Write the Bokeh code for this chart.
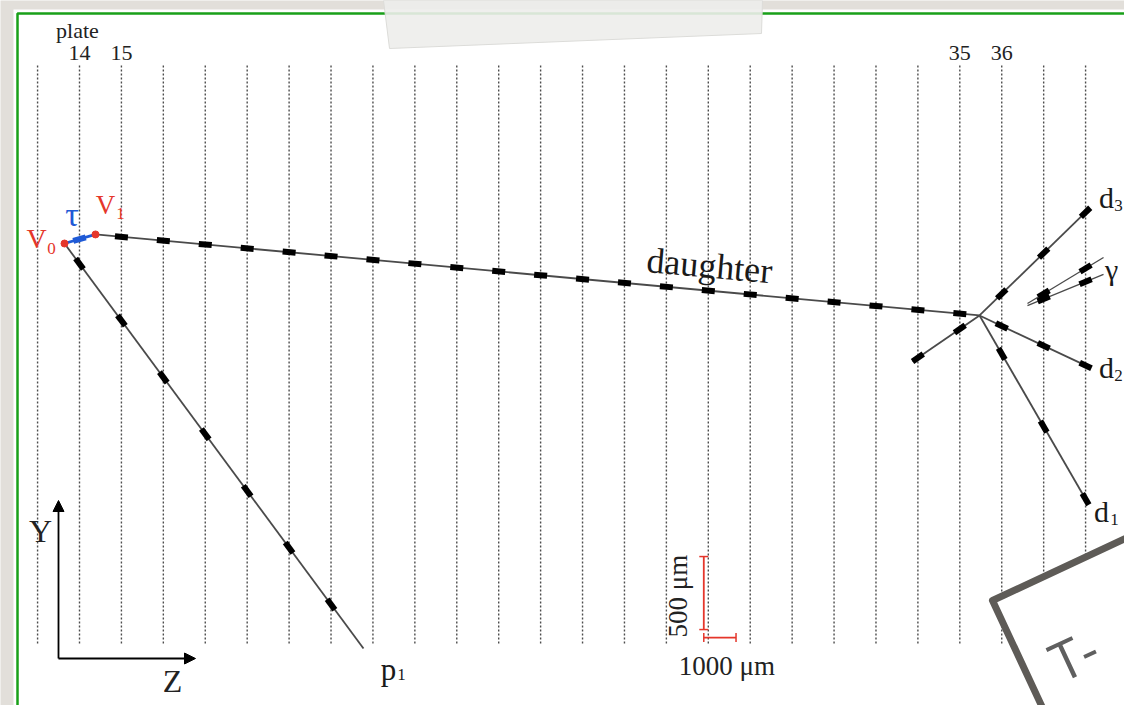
import math
from bokeh.plotting import figure
from bokeh.models import Range1d, Arrow, NormalHead, TeeHead
from bokeh.core.properties import value
from bokeh.embed import file_html
from bokeh.resources import INLINE

# ---------------- data (micrometres; z along beam from plate 14, y transverse) ----------------
plate_numbers = list(range(13, 39))
labelled_plates = [14, 15, 35, 36]
plate_pitch_um = 1300

vertex_names = ["V0", "V1"]
vertex_z = [-465, 496]
vertex_y = [0, 62]

track_names = ["tau", "daughter", "p1", "d1", "d2", "d3", "backward", "gamma_a", "gamma_b"]
track_z0 = [-465, 496, -465, 27911, 27911, 27911, 27911, 29398, 29398]
track_y0 = [0, 62, 0, -493, -493, -493, -493, -411, -425]
track_z1 = [496, 27911, 8807, 31260, 31260, 31322, 25833, 31756, 31756]
track_y1 = [62, -493, -2774, -1774, -842, 240, -808, -96, -212]
track_first_plate = [14, 15, 14, 36, 36, 36, 34, 37, 37]
track_last_plate = [14, 35, 20, 38, 38, 38, 35, 38, 38]

scale_bar_z = 19360
scale_bar_y = -2699
scale_bar_dz = 1000
scale_bar_dy = 500

# ---------------- layout ----------------
W, H = 1124, 705
SX = 41.92 / plate_pitch_um      # px per um along z
SY = 73.0 / 500.0                # px per um along y
X0, Y0 = 79.0, 243.0             # screen position of z=0, y=0

def zx(px):
    return (px - X0) / SX

def yy(py):
    return (Y0 - py) / SY

def shifted(z, y, dx, dy):
    return z + dx / SX, y - dy / SY

BG = "#e2dfda"
RED = "#e5362b"
BLUE = "#1f5ad6"
GREEN = "#19a019"
TRACK = "#4a4a4a"
INK = "#1a1a1a"
SERIF = value("Liberation Serif")

p = figure(width=W, height=H, x_range=Range1d(zx(0), zx(W)), y_range=Range1d(yy(H), yy(0)),
           output_backend="svg", toolbar_location=None, min_border=0,
           x_axis_type=None, y_axis_type=None,
           background_fill_color=BG, border_fill_color=BG, outline_line_color=None)
p.grid.visible = False

# slide panel + green frame
p.quad(left=[zx(13)], right=[zx(W + 20)], top=[yy(9)], bottom=[yy(H + 20)],
       fill_color="white", line_color=None)
p.multi_line(xs=[[zx(W + 20), zx(17), zx(17)]], ys=[[yy(13), yy(13), yy(H + 20)]],
             line_color=GREEN, line_width=2.5)

# plate lines
plate_z = [(n - 14) * plate_pitch_um for n in plate_numbers]
line_top, line_bottom = yy(65), yy(645)
p.segment(x0=plate_z, y0=[line_top] * len(plate_z), x1=plate_z, y1=[line_bottom] * len(plate_z),
          line_color="#4d4d4d", line_width=1.4, line_dash="2 2")

# plate labels
lab_z = [(n - 14) * plate_pitch_um for n in labelled_plates]
p.text(x=lab_z, y=[shifted(0, line_top, 0, -13)[1]] * len(lab_z), text=[str(n) for n in labelled_plates],
       text_font=SERIF, text_font_size="22px", text_color="#222222",
       text_align="center", text_baseline="middle")
pz, py_ = shifted(lab_z[0], line_top, -2, -35)
p.text(x=[pz], y=[py_], text=["plate"], text_font=SERIF, text_font_size="22px",
       text_color="#222222", text_align="center", text_baseline="middle")

# tracks and base-track segments
seg = {"x0": [], "y0": [], "x1": [], "y1": [], "c": []}
for i, name in enumerate(track_names):
    z0, y0, z1, y1 = track_z0[i], track_y0[i], track_z1[i], track_y1[i]
    col = BLUE if name == "tau" else TRACK
    lw = 2.8 if name == "tau" else (1.3 if name.startswith("gamma") else 1.8)
    p.line([z0, z1], [y0, y1], line_color=col, line_width=lw)
    dxp, dyp = (z1 - z0) * SX, (y1 - y0) * SY
    n = math.hypot(dxp, dyp)
    ux, uy = dxp / n, dyp / n
    L = 6.5
    for pl in range(track_first_plate[i], track_last_plate[i] + 1):
        zc = (pl - 14) * plate_pitch_um
        yc = y0 + (zc - z0) / (z1 - z0) * (y1 - y0)
        seg["x0"].append(zc - ux * L / SX)
        seg["y0"].append(yc - uy * L / SY)
        seg["x1"].append(zc + ux * L / SX)
        seg["y1"].append(yc + uy * L / SY)
        seg["c"].append(BLUE if name == "tau" else "black")
p.segment(x0="x0", y0="y0", x1="x1", y1="y1", line_color="c", line_width=6,
          line_cap="butt", source=seg)

# vertices
p.scatter(vertex_z, vertex_y, size=7, fill_color=RED, line_color=RED)

def label(z, y, dx, dy, txt, color, size, angle=0.0, font=SERIF):
    lz, ly = shifted(z, y, dx, dy)
    p.text(x=[lz], y=[ly], text=[txt], text_font=font, text_font_size=size, text_color=color,
           text_align="center", text_baseline="middle", angle=angle)

label(vertex_z[0], vertex_y[0], -28, -5, "V", RED, "28px")
label(vertex_z[0], vertex_y[0], -13, 5, "0", RED, "17px")
label(vertex_z[1], vertex_y[1], 10, -29, "V", RED, "27px")
label(vertex_z[1], vertex_y[1], 25, -21, "1", RED, "17px")
tz, ty = (track_z0[0] + track_z1[0]) / 2, (track_y0[0] + track_y1[0]) / 2
label(tz, ty, -8, -24, "τ", BLUE, "34px")

# daughter label along the track
di = track_names.index("daughter")
dz = zx(709)
dy_ = track_y0[di] + (dz - track_z0[di]) / (track_z1[di] - track_z0[di]) * (track_y1[di] - track_y0[di])
ang = math.atan2((track_y1[di] - track_y0[di]) * SY, (track_z1[di] - track_z0[di]) * SX)
label(dz, dy_, 0, -25, "daughter", INK, "36px", angle=ang)

def end_of(name):
    i = track_names.index(name)
    return track_z1[i], track_y1[i]

z, y = end_of("p1")
label(z, y, 25, 21, "p", INK, "31px")
label(z, y, 38, 26, "1", INK, "17px")
z, y = end_of("d1")
label(z, y, 14, 9, "d", INK, "30px")
label(z, y, 27, 17, "1", INK, "17px")
z, y = end_of("d2")
label(z, y, 19, 1, "d", INK, "30px")
label(z, y, 31, 9, "2", INK, "17px")
z, y = end_of("d3")
label(z, y, 17, -11, "d", INK, "30px")
label(z, y, 29, -3, "3", INK, "17px")
z, y = end_of("gamma_a")
label(z, y, 8, 12, "γ", INK, "30px")

# axis indicator
ox, oy = zx(58), yy(658)
p.add_layout(Arrow(x_start=ox, y_start=oy, x_end=ox, y_end=yy(500), line_width=1.8, line_color="black",
                   end=NormalHead(size=11, fill_color="black", line_color="black")))
p.add_layout(Arrow(x_start=ox, y_start=oy, x_end=zx(195), y_end=oy, line_width=1.8, line_color="black",
                   end=NormalHead(size=11, fill_color="black", line_color="black")))
p.text(x=[zx(40)], y=[yy(530)], text=["Y"], text_font=SERIF, text_font_size="32px",
       text_color="#222222", text_align="center", text_baseline="middle")
p.text(x=[zx(172)], y=[yy(680)], text=["Z"], text_font=SERIF, text_font_size="32px",
       text_color="#222222", text_align="center", text_baseline="middle")

# scale bars
gap = 8 / SY
p.add_layout(Arrow(x_start=scale_bar_z, y_start=scale_bar_y + gap,
                   x_end=scale_bar_z, y_end=scale_bar_y + gap + scale_bar_dy,
                   line_color=RED, line_width=1.8,
                   start=TeeHead(size=9, line_color=RED, line_width=1.5),
                   end=TeeHead(size=9, line_color=RED, line_width=1.5)))
p.add_layout(Arrow(x_start=scale_bar_z, y_start=scale_bar_y,
                   x_end=scale_bar_z + scale_bar_dz, y_end=scale_bar_y,
                   line_color=RED, line_width=1.8,
                   start=TeeHead(size=9, line_color=RED, line_width=1.5),
                   end=TeeHead(size=9, line_color=RED, line_width=1.5)))
label(scale_bar_z, scale_bar_y + gap + scale_bar_dy / 2, -26, 3, "500 μm", "#222222", "27px",
      angle=math.pi / 2)
label(scale_bar_z + scale_bar_dz / 2, scale_bar_y, 7, 28, "1000 μm", "#222222", "27px")

# tape strip at top
tape = [(383, 0), (762, 0), (761, 33), (389, 48)]
p.patch([zx(a) for a, b in tape], [yy(b) for a, b in tape], fill_color="#ededeb",
        fill_alpha=0.9, line_color="#dcdcd9", line_width=1)

# sticky note bottom right
th = math.radians(25)
A = (992, 600)
side = 260
B = (A[0] + side * math.cos(th), A[1] - side * math.sin(th))
D = (A[0] + side * math.sin(th), A[1] + side * math.cos(th))
C = (B[0] + side * math.sin(th), B[1] + side * math.cos(th))
corners = [A, B, C, D]
p.patch([zx(a) for a, b in corners], [yy(b) for a, b in corners], fill_color="white",
        line_color="#5e5b57", line_width=7, line_join="round")
p.text(x=[zx(1052)], y=[yy(664)], text=["T-"], text_font=value("Open Sans"), text_font_size="54px",
       text_color="#5f5f5f", text_align="left", text_baseline="alphabetic", angle=th)

open("out.html", "w").write(file_html(p, INLINE))
